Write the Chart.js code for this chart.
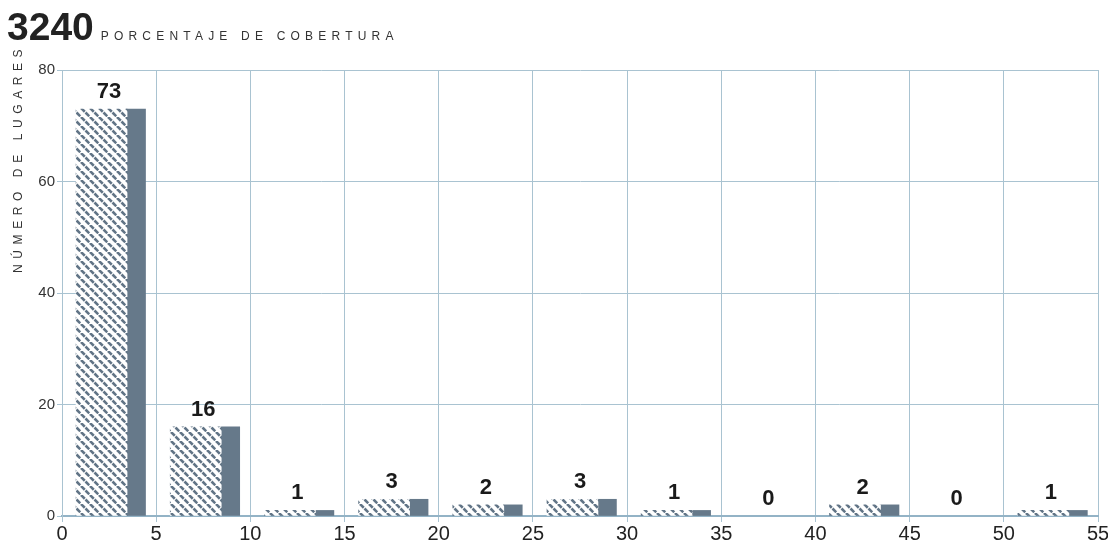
<!DOCTYPE html>
<html>
<head>
<meta charset="utf-8">
<script src="https://cdn.jsdelivr.net/npm/chart.js@4"></script>
<style>
  body { margin: 0; background: #fff; font-family: "Liberation Sans", Arial, sans-serif; }
  #wrap { position: relative; width: 1108px; height: 544px; }
  #title { position: absolute; left: 7px; top: 5px; white-space: nowrap; color: #222; }
  #title b { font-size: 39px; }
  #title span { font-size: 12px; letter-spacing: 5.2px; margin-left: 7px; color: #333; }
  canvas { position: absolute; left: 0; top: 0; }
</style>
</head>
<body>
<div id="wrap">
  <canvas id="chart" width="1108" height="544"></canvas>
  <div id="title"><b>3240</b><span>PORCENTAJE DE COBERTURA</span></div>
</div>
<script>
// Data
const binStarts = [0, 5, 10, 15, 20, 25, 30, 35, 40, 45, 50];
const hatchedValues = [73, 16, 1, 3, 2, 3, 1, 0, 2, 0, 1];
const solidValues = [73, 16, 1, 3, 2, 3, 1, 0, 2, 0, 1];
const labelValues = [73, 16, 1, 3, 2, 3, 1, 0, 2, 0, 1];
const xTicks = [0, 5, 10, 15, 20, 25, 30, 35, 40, 45, 50, 55];
const yTicks = [0, 20, 40, 60, 80];
const yTitle = 'NÚMERO DE LUGARES';

const barColor = '#66798a';
const gridColor = '#a9c3d1';

// Hatch pattern for the first bar of each bin
function makeHatch() {
  const c = document.createElement('canvas');
  c.width = 9;
  c.height = 9;
  const g = c.getContext('2d');
  g.fillStyle = '#ffffff';
  g.fillRect(0, 0, 9, 9);
  g.strokeStyle = '#617486';
  g.lineWidth = 2.6;
  g.setLineDash([5.36, 1.0]);
  for (let k = -1; k <= 1; k++) {
    g.beginPath();
    g.moveTo(k * 9, 0);
    g.lineTo(k * 9 + 9, 9);
    g.stroke();
  }
  return g.createPattern(c, 'repeat');
}

const hatch = makeHatch();

// Value labels above each bin and the rotated axis title
const extrasPlugin = {
  id: 'extras',
  afterDatasetsDraw(chart) {
    const ctx = chart.ctx;
    const xs = chart.scales.x;
    const ys = chart.scales.y;
    ctx.save();
    ctx.fillStyle = '#1a1a1a';
    ctx.font = 'bold 22px "Liberation Sans", Arial, sans-serif';
    ctx.textAlign = 'center';
    ctx.textBaseline = 'alphabetic';
    labelValues.forEach((v, i) => {
      const x = xs.getPixelForValue(binStarts[i] + 2.5);
      const y = ys.getPixelForValue(v) - 11;
      ctx.fillText(String(v), x, y);
    });
    ctx.restore();

    ctx.save();
    ctx.translate(22, 273);
    ctx.rotate(-Math.PI / 2);
    ctx.fillStyle = '#333';
    ctx.font = '12px "Liberation Sans", Arial, sans-serif';
    ctx.letterSpacing = '5.6px';
    ctx.textAlign = 'left';
    ctx.fillText(yTitle, 0, 0);
    ctx.restore();
  }
};

// empty bins get no bar at all
const toPoints = (vals, offset) =>
  binStarts.map((b, i) => ({ x: b + offset, y: vals[i] === 0 ? null : vals[i] }));

new Chart(document.getElementById('chart'), {
  type: 'bar',
  data: {
    datasets: [
      {
        label: 'hatched',
        data: toPoints(hatchedValues, 2.1),
        backgroundColor: hatch,
        barThickness: 51,
        grouped: false
      },
      {
        label: 'solid',
        data: toPoints(solidValues, 3.93),
        backgroundColor: barColor,
        barThickness: 19,
        grouped: false
      }
    ]
  },
  options: {
    responsive: false,
    animation: false,
    layout: { padding: { left: 0, right: 0, top: 70, bottom: 0 } },
    plugins: {
      legend: { display: false },
      tooltip: { enabled: false }
    },
    scales: {
      x: {
        type: 'linear',
        offset: false,
        min: 0,
        max: 55,
        afterBuildTicks: (s) => { s.ticks = xTicks.map((v) => ({ value: v })); },
        afterFit: (s) => { s.height = 28; s.paddingRight = 10; },
        ticks: {
          color: '#222',
          font: { family: '"Liberation Sans", Arial, sans-serif', size: 20 },
          padding: 0,
          maxRotation: 0
        },
        grid: { offset: false, color: gridColor, tickLength: 6, tickColor: gridColor },
        border: { color: '#93b3c6', width: 2 }
      },
      y: {
        min: 0,
        max: 80,
        afterBuildTicks: (s) => { s.ticks = yTicks.map((v) => ({ value: v })); },
        afterFit: (s) => { s.width = 62; },
        ticks: {
          color: '#333',
          font: { family: '"Liberation Sans", Arial, sans-serif', size: 15 },
          padding: 2
        },
        grid: { color: gridColor, tickLength: 5, tickColor: gridColor },
        border: { color: gridColor, width: 1 }
      }
    }
  },
  plugins: [extrasPlugin]
});
</script>
</body>
</html>
